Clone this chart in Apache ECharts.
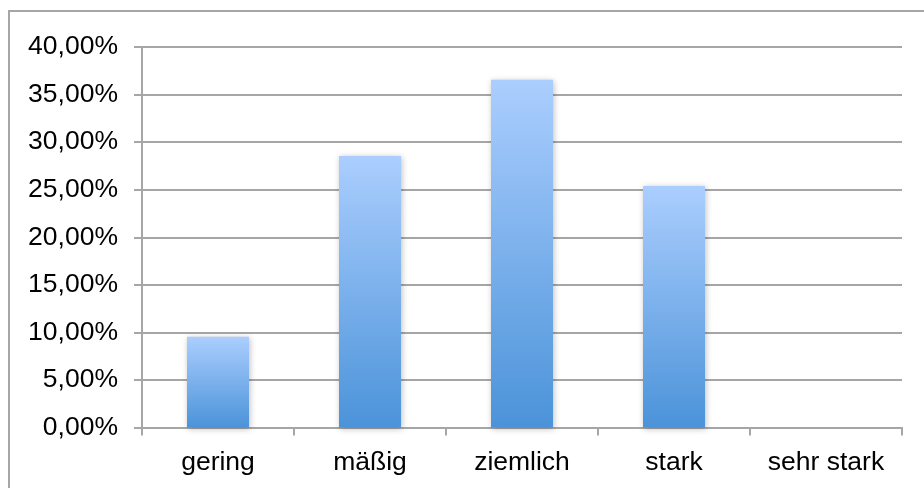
<!DOCTYPE html>
<html>
<head>
<meta charset="utf-8">
<script src="https://cdn.jsdelivr.net/npm/echarts@6/dist/echarts.min.js"></script>
<style>
  html, body { margin: 0; padding: 0; background: #fff; }
  #chart { width: 924px; height: 488px; }
</style>
</head>
<body>
<div id="chart"></div>
<script>
// Categories and shares (in percent)
const categories = ['gering', 'mäßig', 'ziemlich', 'stark', 'sehr stark'];
const shares = [9.55, 28.55, 36.55, 25.4, 0];
const yTicks = { min: 0, max: 40, interval: 5 };

const fmtPct = v => v.toFixed(2).replace('.', ',') + '%';

const chart = echarts.init(document.getElementById('chart'), null, { renderer: 'canvas' });

chart.setOption({
  backgroundColor: '#ffffff',
  animation: false,
  graphic: [{
    type: 'rect',
    shape: { x: 9, y: 11, width: 940, height: 500 },
    style: { fill: 'none', stroke: '#a6a6a6', lineWidth: 2 },
    silent: true,
    z: -1
  }],
  grid: { left: 142, right: 22, top: 47, bottom: 60.5, containLabel: false },
  xAxis: {
    type: 'category',
    data: categories,
    boundaryGap: true,
    axisLine: { show: true, lineStyle: { color: '#a6a6a6', width: 2 } },
    axisTick: { show: true, alignWithLabel: false, length: 8, lineStyle: { color: '#a6a6a6', width: 2 } },
    axisLabel: {
      color: '#000', fontFamily: 'Liberation Sans, Arial, sans-serif',
      fontSize: 26.5, margin: 22
    },
    splitLine: { show: false }
  },
  yAxis: {
    type: 'value',
    min: yTicks.min, max: yTicks.max, interval: yTicks.interval,
    axisLine: { show: true, lineStyle: { color: '#a6a6a6', width: 2 } },
    axisTick: { show: true, length: 8, lineStyle: { color: '#a6a6a6', width: 2 } },
    axisLabel: {
      color: '#000', fontFamily: 'Liberation Sans, Arial, sans-serif',
      fontSize: 26.5, margin: 24, formatter: fmtPct
    },
    splitLine: { show: true, lineStyle: { color: '#a6a6a6', width: 2 } }
  },
  series: [{
    type: 'bar',
    data: shares,
    barWidth: 62,
    itemStyle: {
      color: new echarts.graphic.LinearGradient(0, 0, 0, 1, [
        { offset: 0, color: '#abcefe' },
        { offset: 1, color: '#4b93d9' }
      ]),
      shadowColor: 'rgba(0,0,0,0.25)',
      shadowBlur: 6,
      shadowOffsetX: 1,
      shadowOffsetY: 1
    }
  }]
});
</script>
</body>
</html>
